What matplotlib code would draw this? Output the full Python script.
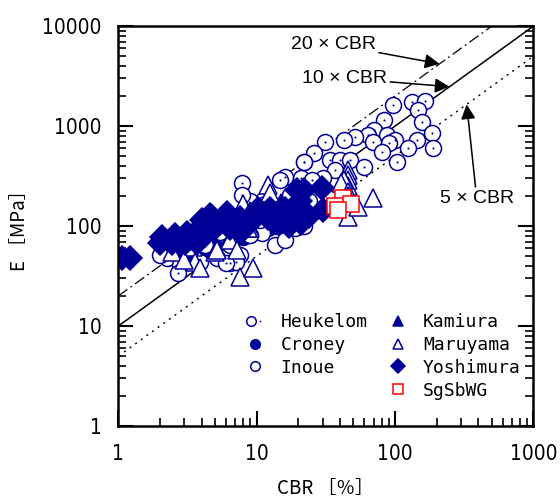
import numpy as np
import matplotlib
matplotlib.use('Agg')
import matplotlib.pyplot as plt
from matplotlib.lines import Line2D
from matplotlib.legend_handler import HandlerTuple

# data (CBR [%], E [MPa])
heuk_cbr = [96, 132, 164, 146, 158, 84, 71, 64, 87, 100, 91, 69, 184, 144, 124, 187, 81, 103,
            51, 43, 31, 26, 22, 34, 40, 47, 60, 37, 30, 21, 25, 7.8, 16, 7.9, 6.4, 14.7, 22,
            2.7, 7.1, 6.0]
heuk_E = [1620, 1740, 1780, 1450, 1100, 1150, 910, 810, 810, 720, 680, 690, 850, 720, 600, 600, 550, 440,
          780, 720, 690, 540, 440, 460, 460, 460, 390, 360, 300, 300, 290, 270, 310, 205, 43, 290, 440,
          34, 44, 43]

croney_cbr = [2.1, 2.5, 3.0, 3.5, 4.2, 5.0, 6.5, 8, 10, 12, 14, 16.5, 18]
croney_E = [52, 50, 55, 52, 58, 62, 70, 78, 90, 95, 100, 95, 110]

inoue_cbr = [2.25, 3.9, 5.2, 11, 8.9, 3.3, 4.2, 6.4, 7.6, 13.5, 16, 19, 22, 10.5, 12.5, 5.4, 2.0,
             2.8, 28.5, 24, 17.3, 11.4, 8.9]
inoue_E = [48, 44, 48, 85, 81, 60, 65, 65, 51, 65, 72, 95, 100, 115, 123, 87, 51,
           41, 145, 180, 205, 165, 180]

kamiura_cbr = [5.5, 7, 9, 12, 15, 20]
kamiura_E = [110, 120, 140, 150, 170, 200]

maru_cbr = [2.45, 3.45, 3.6, 3.9, 3.0, 5.0, 5.2, 7.2, 8, 12, 11.8, 14.7, 7.6, 9.4, 6.4, 8.9, 7.2,
            12.4, 14.7, 8.7, 12.4, 45.5, 45.5, 45.5, 45.5, 43, 41, 69, 45.5, 54, 45.5, 45.5]
maru_E = [55, 62, 44, 38, 46, 55, 58, 110, 166, 257, 182, 138, 31, 38, 72, 95, 58,
          190, 150, 95, 215, 363, 324, 290, 250, 290, 270, 190, 123, 155, 220, 200]

yoshi_cbr = [1.06, 1.22, 2.0, 2.44, 3.03, 3.7, 2.07, 2.57, 3.13, 4.2, 3.9, 5.0, 6.4, 8.2,
             4.0, 4.75, 4.6, 6.1, 7.6, 9.7, 12, 10.2, 12.5, 16, 22, 29.6, 30, 19.5, 20.5,
             17.3, 21, 14, 17, 20, 24, 13]
yoshi_E = [48, 48, 68, 68, 68, 68, 78, 81, 85, 81, 95, 95, 95, 95,
           115, 123, 129, 135, 120, 120, 120, 150, 150, 150, 230, 240, 145, 230, 180,
           137, 107, 110, 100, 120, 125, 125]

sg_cbr = [42, 37, 48, 39]
sg_E = [190, 160, 165, 145]

lines_factor = [20, 10, 5]

navy = '#000096'

fig = plt.figure(figsize=(5.6, 5.01), dpi=100)
ax = fig.add_axes([0.2113, 0.1497, 0.741, 0.798])
ax.set_xscale('log')
ax.set_yscale('log')
ax.set_xlim(1, 1000)
ax.set_ylim(1, 10000)

xx = np.array([1, 1000])
ax.plot(xx, lines_factor[0] * xx, color='k', lw=0.9, ls=(0, (9, 3, 1.5, 3)))
ax.plot(xx, lines_factor[1] * xx, color='k', lw=1.1, ls='-')
ax.plot(xx, lines_factor[2] * xx, color='k', lw=1.0, ls=(0, (1.5, 3.5)))

ms = 11.5
mew = 1.1
ax.plot(croney_cbr, croney_E, 'o', ms=ms, mfc=navy, mec=navy, mew=mew)
ax.plot(inoue_cbr, inoue_E, 'o', ms=ms, mfc='white', mec=navy, mew=mew)
ax.plot(heuk_cbr, heuk_E, 'o', ms=ms, mfc='white', mec=navy, mew=mew)
ax.plot(heuk_cbr, heuk_E, 'o', ms=1.5, mfc=navy, mec=navy, mew=0)
ax.plot(maru_cbr, maru_E, '^', ms=13, mfc='white', mec=navy, mew=mew)
ax.plot(kamiura_cbr, kamiura_E, '^', ms=13, mfc=navy, mec=navy, mew=mew)
ax.plot(yoshi_cbr, yoshi_E, 'D', ms=12, mfc=navy, mec=navy, mew=mew)
ax.plot(sg_cbr, sg_E, 's', ms=12, mfc='white', mec='red', mew=mew)

# annotations
afont = dict(family=['Liberation Sans', 'DejaVu Sans'], fontsize=14)
arr = dict(arrowstyle='-|>', color='k', lw=1.1, mutation_scale=22, shrinkA=0, shrinkB=0)
ax.annotate('20 \u00d7 CBR', xy=(210, 4200), xytext=(36, 6600), ha='center', va='center',
            arrowprops=arr, **afont)
ax.annotate('10 \u00d7 CBR', xy=(248, 2480), xytext=(43.4, 3020), ha='center', va='center',
            arrowprops=arr, **afont)
ax.annotate('5 \u00d7 CBR', xy=(330, 1650), xytext=(390, 190), ha='center', va='center',
            arrowprops=arr, **afont)

# axes styling
for s in ax.spines.values():
    s.set_linewidth(1.8)
ax.tick_params(which='both', direction='in', left=True, right=True, top=False, bottom=True)
ax.tick_params(which='major', length=11, width=1.5)
ax.tick_params(which='minor', length=5.5, width=1.2)
ax.tick_params(axis='y', which='major', pad=12)
ax.tick_params(axis='x', which='major', pad=13)
ax.set_xticks([1, 10, 100, 1000])
ax.set_xticklabels(['1', '10', '100', '1000'])
ax.set_yticks([1, 10, 100, 1000, 10000])
ax.set_yticklabels(['1', '10', '100', '1000', '10000'])
for lab in ax.get_xticklabels() + ax.get_yticklabels():
    lab.set_fontfamily('DejaVu Sans')
    lab.set_fontstretch('condensed')
    lab.set_fontsize(15)

jp = ['Noto Sans CJK JP', 'DejaVu Sans']
ax.set_xlabel('CBR \uff3b\uff05\uff3d', family=jp, fontsize=13.5, va='center')
ax.set_ylabel('E \uff3bMPa\uff3d', family=jp, fontsize=13.5, va='center')
ax.xaxis.set_label_coords(0.5, -0.157)
ax.yaxis.set_label_coords(-0.237, 0.5)

# legend
h_heuk = (Line2D([], [], ls='none', marker='o', ms=ms, mfc='white', mec=navy, mew=mew),
          Line2D([], [], ls='none', marker='o', ms=2, mfc=navy, mec=navy, mew=0))
h_cron = Line2D([], [], ls='none', marker='o', ms=ms, mfc=navy, mec=navy, mew=mew)
h_inou = Line2D([], [], ls='none', marker='o', ms=ms, mfc='white', mec=navy, mew=mew)
h_blank = Line2D([], [], ls='none')
h_kami = Line2D([], [], ls='none', marker='^', ms=13, mfc=navy, mec=navy, mew=mew)
h_maru = Line2D([], [], ls='none', marker='^', ms=13, mfc='white', mec=navy, mew=mew)
h_yosh = Line2D([], [], ls='none', marker='D', ms=12, mfc=navy, mec=navy, mew=mew)
h_sg = Line2D([], [], ls='none', marker='s', ms=12, mfc='white', mec='red', mew=mew)
handles = [h_heuk, h_cron, h_inou, h_blank, h_kami, h_maru, h_yosh, h_sg]
labels = ['Heukelom', 'Croney', 'Inoue', ' ', 'Kamiura', 'Maruyama', 'Yoshimura', 'SgSbWG']
ax.legend(handles, labels, ncol=2, loc='upper left', bbox_to_anchor=(0.308, 0.2825),
          frameon=False, borderpad=0, borderaxespad=0, markerscale=0.6,
          handlelength=1.0, handletextpad=0.9, columnspacing=1.17, labelspacing=0.27,
          prop={'family': 'DejaVu Sans Mono', 'size': 13},
          handler_map={tuple: HandlerTuple(ndivide=None)})

fig.savefig('out.png', dpi=100)
